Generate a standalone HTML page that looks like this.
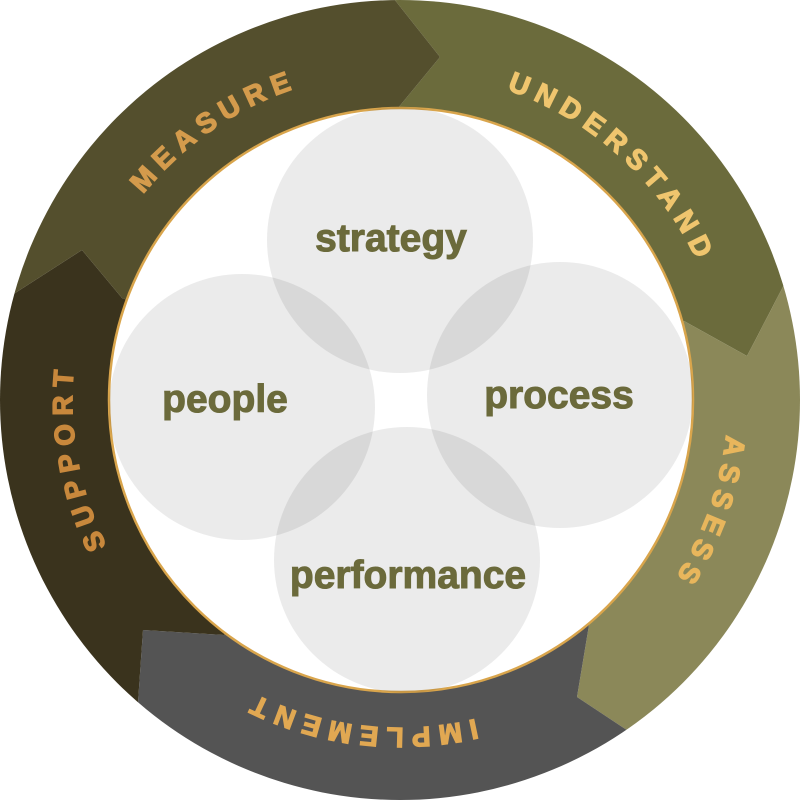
<!DOCTYPE html>
<html><head><meta charset="utf-8"><style>
html,body{margin:0;padding:0;background:#fff;width:800px;height:800px;overflow:hidden}
svg{display:block}
.ring{font-family:"Liberation Sans",sans-serif;font-weight:700;font-size:28px;letter-spacing:7.5px;stroke-width:1.3px}
.lbl{font-family:"Liberation Sans",sans-serif;font-weight:700;font-size:39px;fill:#6b6a3b;stroke:#6b6a3b;stroke-width:1px;text-anchor:middle}
</style></head><body>
<svg width="800" height="800" viewBox="0 0 800 800">
<defs>
<clipPath id="c"><circle cx="400" cy="400" r="400"/></clipPath>
<path id="rM" d="M 72,426 A 328 328 0 0 1 541,104"/>
<path id="rU" d="M 301,87 A 328 328 0 0 1 720,471"/>
<path id="rA" d="M 651,189 A 328 328 0 0 1 457,723"/>
<path id="rI" d="M 662,597 A 328 328 0 0 1 98,528"/>
<path id="rS" d="M 288,708 A 328 328 0 0 1 189,149"/>
</defs>
<g clip-path="url(#c)">
<polygon fill="#6b6b3c" points="400,400 398,108 440,57 379,-20 850,-20 850,254 800,254 747,356 684,321"/>
<polygon fill="#8b8859" points="400,400 684,321 747,356 800,254 850,254 850,850 740,850 740,805 577,697 589,625"/>
<polygon fill="#545454" points="400,400 589,625 577,697 740,805 740,850 134,850 134,760 143,630 224,635"/>
<polygon fill="#3a331d" points="400,400 224,635 143,630 134,760 -50,760 -50,322 -30,322 82,250 122,298"/>
<polygon fill="#544f2d" points="400,400 122,298 82,250 -30,322 -50,322 -50,-20 379,-20 440,57 398,108"/>
</g>
<circle cx="401" cy="400" r="292" fill="#fff" stroke="#d9a54c" stroke-width="2.5"/>
<g fill="#000" fill-opacity="0.078">
<circle cx="400" cy="240" r="133"/>
<circle cx="242" cy="407" r="133"/>
<circle cx="560" cy="395" r="133"/>
<circle cx="407" cy="560" r="133"/>
</g>
<text class="lbl" x="391" y="251">strategy</text>
<text class="lbl" x="225" y="412">people</text>
<text class="lbl" x="559" y="408">process</text>
<text class="lbl" x="408" y="588">performance</text>
<g class="ring">
<text fill="#d49b4c" stroke="#d49b4c"><textPath href="#rM" startOffset="50%" text-anchor="middle">MEASURE</textPath></text>
<text fill="#efc56e" stroke="#efc56e"><textPath href="#rU" startOffset="50%" text-anchor="middle">UNDERSTAND</textPath></text>
<text fill="#e8b65c" stroke="#e8b65c"><textPath href="#rA" startOffset="50%" text-anchor="middle">ASSESS</textPath></text>
<text fill="#e1a852" stroke="#e1a852"><textPath href="#rI" startOffset="50%" text-anchor="middle">IMPLEMENT</textPath></text>
<text fill="#c8883c" stroke="#c8883c"><textPath href="#rS" startOffset="50%" text-anchor="middle">SUPPORT</textPath></text>
</g>
</svg>
</body></html>
